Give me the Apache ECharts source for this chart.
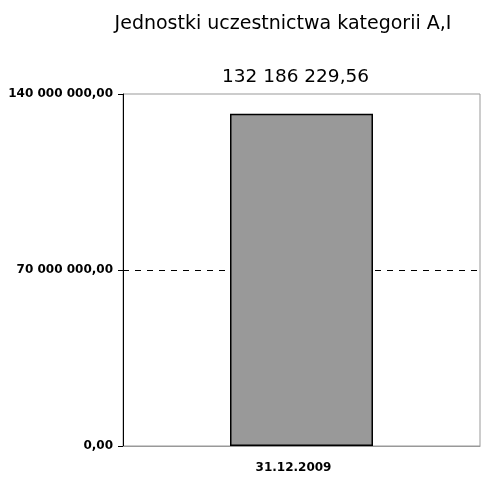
<!DOCTYPE html>
<html>
<head>
<meta charset="utf-8">
<script src="https://cdn.jsdelivr.net/npm/echarts@6/dist/echarts.min.js"></script>
<style>html,body{margin:0;padding:0;background:#fff}#c{width:483px;height:483px}</style>
</head>
<body>
<div id="c"></div>
<script>
const titleText = 'Jednostki uczestnictwa kategorii A,I';
const categories = ['31.12.2009'];
const values = [132186229.56];
const yTicks = [0, 70000000, 140000000];

function fmt(v) {
  const parts = v.toFixed(2).split('.');
  return parts[0].replace(/\B(?=(\d{3})+(?!\d))/g, ' ') + ',' + parts[1];
}

const chart = echarts.init(document.getElementById('c'));
chart.setOption({
  animation: false,
  title: {
    text: titleText,
    left: 283, top: 15, textAlign: 'center', padding: 0,
    textStyle: {fontFamily: 'DejaVu Sans', fontSize: 19, fontWeight: 'normal', color: '#000'}
  },
  grid: {left: 123, right: 3, top: 94, bottom: 37, show: true, borderColor: '#999', borderWidth: 1, backgroundColor: '#fff'},
  xAxis: {
    type: 'category', data: categories,
    axisLine: {lineStyle: {color: '#999'}},
    axisTick: {show: false},
    axisLabel: {fontFamily: 'DejaVu Sans', fontWeight: 'bold', fontSize: 12, color: '#000', margin: 16, padding: [0, 16, 0, 0]}
  },
  yAxis: {
    type: 'value', min: yTicks[0], max: yTicks[2], interval: yTicks[1] - yTicks[0],
    axisLine: {show: true, lineStyle: {color: '#000'}},
    axisTick: {show: true, length: 5, lineStyle: {color: '#000'}},
    axisLabel: {fontFamily: 'DejaVu Sans', fontWeight: 'bold', fontSize: 12, color: '#000', margin: 10, formatter: v => fmt(v)},
    splitLine: {show: true, showMinLine: false, showMaxLine: false, lineStyle: {color: '#000', type: [6, 6], width: 1}}
  },
  series: [{
    type: 'bar', data: values, barWidth: 143,
    itemStyle: {color: '#999999', borderColor: '#000', borderWidth: 1.5},
    label: {show: true, position: 'top', distance: 27, offset: [-6, 0], formatter: p => fmt(p.value),
      fontFamily: 'DejaVu Sans', fontSize: 18.5, color: '#000'}
  }]
});
</script>
</body>
</html>
